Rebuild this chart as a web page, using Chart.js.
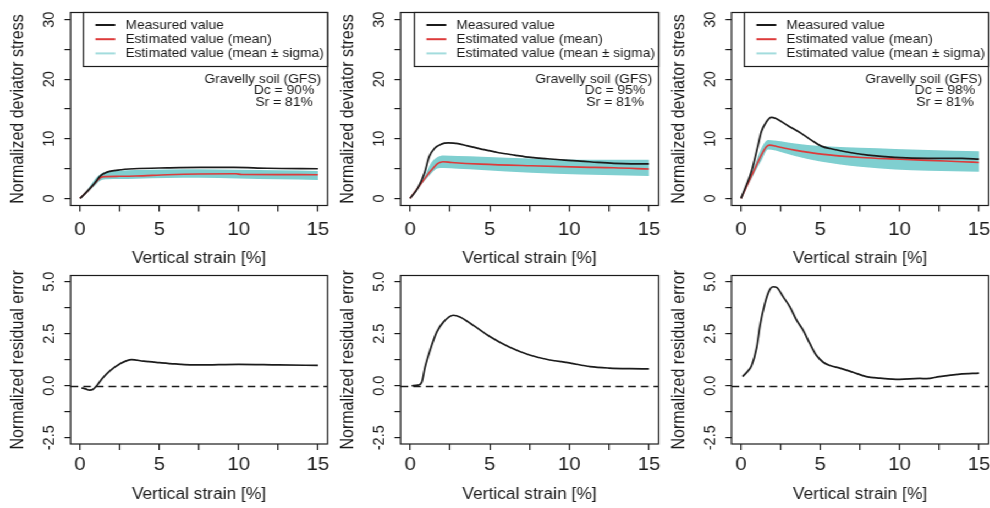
<!DOCTYPE html>
<html>
<head>
<meta charset="utf-8">
<script src="https://cdn.jsdelivr.net/npm/chart.js@4/dist/chart.umd.min.js"></script>
<style>
  html, body { margin: 0; padding: 0; background: #ffffff; overflow: hidden; }
  /* the figure is laid out 900 px wide and widened to the 990 px page */
  #wrap { position: relative; width: 900px; height: 508px; background: #ffffff;
          transform: scaleX(1.1); transform-origin: 0 0; }
  #wrap canvas { position: absolute; }
</style>
</head>
<body>
<div id="wrap">
  <canvas id="s90"></canvas>
  <canvas id="s95"></canvas>
  <canvas id="s98"></canvas>
  <canvas id="r90"></canvas>
  <canvas id="r95"></canvas>
  <canvas id="r98"></canvas>
</div>
<script>
// ---------- axis ticks and labels ----------
const strainTicks    = [0, 2.5, 5, 7.5, 10, 12.5, 15];
const strainLabels   = ['0', '', '5', '', '10', '', '15'];
const stressTicks    = [0, 5, 10, 15, 20, 25, 30];
const stressLabels   = ['0', '', '10', '', '20', '', '30'];
const residualTicks  = [-2.5, -1.25, 0, 1.25, 2.5, 3.75, 5];
const residualLabels = ['-2.5', '', '0.0', '', '2.5', '', '5.0'];

// ---------- text ----------
const strainTitle   = 'Vertical strain [%]';
const stressTitle   = 'Normalized deviator stress';
const residualTitle = 'Normalized residual error';
const legendLabels  = ['Measured value', 'Estimated value (mean)', 'Estimated value (mean \u00B1 sigma)'];
const soilLabel     = 'Gravelly soil (GFS)';
const dcLabels      = ['Dc = 90%', 'Dc = 95%', 'Dc = 98%'];
const srLabels      = ['Sr = 81%', 'Sr = 81%', 'Sr = 81%'];

// ---------- Dc = 90 % ----------
const measStrain90 = [0, 0.5, 0.9, 1.3, 1.7, 2.4, 3.4, 5.5, 7.6, 9.7, 11.8, 15];
const measured90   = [0, 1.3, 2.5, 3.8, 4.4, 4.75, 4.97, 5.12, 5.2, 5.2, 5.05, 4.97];
const meanStrain90 = [0, 0.5, 1.0, 1.3, 1.6, 2.5, 3.5, 5.5, 7.5, 9.8, 10.2, 12.5, 15];
const mean90       = [0, 1.3, 2.7, 3.5, 3.65, 3.7, 3.75, 3.97, 4.1, 4.13, 4.0, 3.98, 3.97];
const bandStrain90 = [0, 0.5, 1.0, 1.3, 1.7, 2.5, 3.5, 5.5, 7.5, 10, 12.5, 15];
const upper90      = [0, 1.6, 3.4, 4.1, 4.45, 4.65, 4.75, 4.85, 4.9, 4.8, 4.7, 4.6];
const lower90      = [0, 1.1, 2.3, 3.0, 3.2, 3.25, 3.3, 3.4, 3.45, 3.35, 3.2, 3.1];
const resStrain90  = [0.1, 0.35, 0.6, 0.8, 1.05, 1.4, 1.9, 2.5, 3.25, 4.0, 5.0, 6.0, 7.5, 10, 12.5, 15];
const residual90   = [-0.1, -0.15, -0.21, -0.18, 0.0, 0.35, 0.73, 1.05, 1.26, 1.18, 1.11, 1.05, 1.0, 1.03, 1.0, 0.98];

// ---------- Dc = 95 % ----------
const measStrain95 = [0, 0.5, 0.92, 1.2, 1.54, 1.96, 2.4, 3.0, 3.6, 4.47, 5.5, 6.55, 7.6, 8.64, 9.7, 10.7, 11.8, 12.8, 13.9, 15];
const measured95   = [0, 1.8, 4.4, 7.0, 8.4, 9.1, 9.3, 9.2, 8.8, 8.27, 7.7, 7.26, 6.87, 6.65, 6.42, 6.26, 6.03, 5.87, 5.8, 5.8];
const meanStrain95 = [0, 0.5, 1.0, 1.34, 1.75, 2.07, 2.6, 4.47, 7.6, 10.7, 12.8, 15];
const mean95       = [0, 1.8, 3.6, 4.75, 5.87, 6.15, 6.03, 5.75, 5.47, 5.25, 5.14, 4.92];
const bandStrain95 = [0, 0.5, 1.0, 1.34, 1.7, 2.1, 3.0, 4.5, 7.6, 10.7, 15];
const upper95      = [0, 1.9, 4.2, 6.0, 6.9, 7.2, 7.1, 7.0, 6.7, 6.5, 6.5];
const lower95      = [0, 1.7, 3.2, 4.2, 5.0, 5.1, 4.95, 4.75, 4.3, 4.0, 3.75];
const resStrain95  = [0.1, 0.5, 0.73, 0.94, 1.25, 1.67, 2.09, 2.71, 3.13, 3.97, 5.0, 6.26, 7.5, 8.77, 10.0, 11.3, 12.5, 13.8, 15];
const residual95   = [0.0, 0.03, 0.16, 0.9, 1.7, 2.58, 3.06, 3.39, 3.31, 2.9, 2.37, 1.85, 1.48, 1.24, 1.1, 0.92, 0.85, 0.82, 0.81];

// ---------- Dc = 98 % ----------
const measStrain98 = [0, 0.3, 0.65, 1.07, 1.28, 1.6, 1.9, 2.2, 2.96, 3.8, 4.43, 5.06, 5.9, 6.95, 8.0, 9.7, 11.8, 13.9, 15];
const measured98   = [0, 2.0, 4.47, 8.9, 11.2, 12.85, 13.6, 13.4, 12.2, 10.9, 9.78, 8.77, 8.2, 7.65, 7.26, 6.87, 6.7, 6.7, 6.6];
const meanStrain98 = [0, 0.3, 0.65, 1.0, 1.28, 1.6, 1.8, 2.33, 3.38, 5.06, 7.58, 9.7, 11.8, 13.9, 15];
const mean98       = [0, 1.7, 3.7, 5.7, 7.26, 8.66, 8.94, 8.66, 8.1, 7.43, 6.87, 6.6, 6.37, 6.15, 6.03];
const bandStrain98 = [0, 0.3, 0.65, 1.0, 1.3, 1.7, 2.5, 3.4, 5.0, 7.5, 9.7, 11.8, 15];
const upper98      = [0, 1.9, 4.2, 6.6, 8.5, 9.8, 9.6, 9.2, 8.8, 8.5, 8.3, 8.1, 7.9];
const lower98      = [0, 1.5, 3.2, 5.0, 6.4, 8.2, 7.8, 7.1, 6.2, 5.3, 4.86, 4.64, 4.47];
const resStrain98  = [0.1, 0.46, 0.67, 0.99, 1.2, 1.5, 1.82, 2.03, 2.24, 2.66, 3.08, 3.5, 3.92, 4.34, 4.76, 5.18, 5.6, 6.23, 7.06, 7.9, 8.74, 10.0, 11.26, 11.7, 12.5, 13.8, 15];
const residual98   = [0.44, 0.73, 0.97, 1.85, 2.9, 3.95, 4.63, 4.76, 4.73, 4.27, 3.79, 3.15, 2.66, 2.02, 1.45, 1.13, 0.97, 0.85, 0.65, 0.44, 0.37, 0.31, 0.35, 0.34, 0.44, 0.56, 0.61];

// ---------- styling ----------
const FONT = '"Liberation Sans", Arial, Helvetica, sans-serif';
const INK  = '#1b1b1b';
const RED  = '#dd3b3b';
const TEAL = '#7fcfd0';
const TEAL_KEY = '#a3dcdd';
const SX = 1.1;              // horizontal widening applied to #wrap
Chart.defaults.font.family = FONT;
Chart.defaults.color = INK;

const pts = (xs, ys) => xs.map((x, i) => ({ x: x, y: ys[i] }));

// plot box edges for the three columns (page pixels, converted to layout pixels) and two rows
const columns = [
  { left: 0,   boxL: 70.5,  boxR: 327.5 },
  { left: 330, boxL: 400.5, boxR: 658.5 },
  { left: 660, boxL: 731.5, boxR: 988.5 }
].map(c => ({ left: c.left / SX, boxL: c.boxL / SX, boxR: c.boxR / SX }));
const rows = {
  stress:   { top: 0,   height: 275, boxT: 12.5,  boxB: 205.5, tickPad: 7.1, titlePad: 6.8 },
  residual: { top: 250, height: 258, boxT: 275.5, boxB: 444,   tickPad: 3.6, titlePad: 3.8 }
};

// full box around the plotting region
const framePlugin = {
  id: 'frame',
  afterDatasetsDraw(chart) {
    const { ctx, chartArea: a } = chart;
    ctx.save();
    ctx.strokeStyle = INK;
    ctx.lineWidth = 1.2;
    ctx.strokeRect(a.left, a.top, a.right - a.left, a.bottom - a.top);
    ctx.restore();
  }
};

// y tick labels written parallel to the axis
function yLabelPlugin(values, labels) {
  return {
    id: 'yLabels',
    afterDraw(chart) {
      const { ctx, chartArea: a, scales } = chart;
      ctx.save();
      ctx.fillStyle = INK;
      ctx.font = '14.5px ' + FONT;
      ctx.textAlign = 'center';
      ctx.textBaseline = 'middle';
      values.forEach((v, i) => {
        if (!labels[i]) return;
        const y = scales.y.getPixelForValue(v);
        ctx.save();
        ctx.translate(a.left - 19.5, y);
        ctx.rotate(-Math.PI / 2);
        ctx.fillText(labels[i], 0, 0);
        ctx.restore();
      });
      ctx.restore();
    }
  };
}

// dashed zero reference on the residual panels
const zeroLinePlugin = {
  id: 'zeroLine',
  beforeDatasetsDraw(chart) {
    const { ctx, chartArea: a, scales } = chart;
    const y = Math.round(scales.y.getPixelForValue(0)) + 0.5;
    ctx.save();
    ctx.strokeStyle = INK;
    ctx.lineWidth = 1.3;
    ctx.setLineDash([7, 4.5]);
    ctx.beginPath();
    ctx.moveTo(a.left, y);
    ctx.lineTo(a.right, y);
    ctx.stroke();
    ctx.restore();
  }
};

// legend box and specimen notes on the stress panels
function notesPlugin(dc, sr) {
  return {
    id: 'notes',
    afterDraw(chart) {
      const { ctx, chartArea: a } = chart;
      const lw = 222, lh = 54;
      const lx = a.right - lw, ly = a.top;
      ctx.save();
      ctx.fillStyle = '#ffffff';
      ctx.fillRect(lx, ly, lw, lh);
      ctx.strokeStyle = INK;
      ctx.lineWidth = 1.2;
      ctx.strokeRect(lx, ly, lw, lh);
      const colors = [INK, RED, TEAL_KEY];
      ctx.font = '12.6px ' + FONT;
      ctx.textBaseline = 'middle';
      ctx.textAlign = 'left';
      legendLabels.forEach((t, i) => {
        const y = ly + 12.5 + i * 14.2;
        ctx.strokeStyle = colors[i];
        ctx.lineWidth = 2;
        ctx.beginPath();
        ctx.moveTo(lx + 11, y);
        ctx.lineTo(lx + 29, y);
        ctx.stroke();
        ctx.fillStyle = INK;
        ctx.fillText(t, lx + 38.2, y + 0.5);
      });
      ctx.font = '12.6px ' + FONT;
      ctx.textAlign = 'right';
      ctx.fillStyle = INK;
      ctx.fillText(soilLabel, a.right - 5.7, a.top + 66.8);
      ctx.fillText(dc, a.right - 12.1, a.top + 78.3);
      ctx.fillText(sr, a.right - 13.4, a.top + 89.6);
      ctx.restore();
    }
  };
}

function makeChart(id, col, row, datasets, yCfg, plugins) {
  const canvas = document.getElementById(id);
  const width = Math.ceil(col.boxR - col.left + 14);
  canvas.width = width;
  canvas.height = row.height;
  canvas.style.left = col.left + 'px';
  canvas.style.top = row.top + 'px';
  canvas.style.width = width + 'px';
  canvas.style.height = row.height + 'px';
  const yAxisWidth = col.boxL - col.left;
  const xAxisHeight = row.top + row.height - row.boxB;
  return new Chart(canvas, {
    type: 'line',
    data: { datasets: datasets },
    options: {
      responsive: false,
      animation: false,
      devicePixelRatio: 1,
      layout: { padding: { left: 0, right: col.left + width - col.boxR, top: row.boxT - row.top, bottom: 0 } },
      plugins: { legend: { display: false }, tooltip: { enabled: false } },
      elements: { point: { radius: 0, hoverRadius: 0 } },
      scales: {
        x: {
          type: 'linear',
          min: -0.6,
          max: 15.6,
          afterBuildTicks: s => { s.ticks = strainTicks.map(v => ({ value: v })); },
          afterFit: s => { s.height = xAxisHeight; },
          ticks: {
            autoSkip: false, maxRotation: 0, minRotation: 0,
            padding: row.tickPad, color: INK, font: { size: 18.5 },
            callback: (v, i) => strainLabels[i]
          },
          grid: { drawOnChartArea: false, drawTicks: true, tickLength: 6, color: INK, lineWidth: 1.2 },
          border: { display: false },
          title: { display: true, text: strainTitle, color: INK, font: { size: 15.8 }, padding: { top: 0, bottom: row.titlePad } }
        },
        y: {
          type: 'linear',
          min: yCfg.min,
          max: yCfg.max,
          afterBuildTicks: s => { s.ticks = yCfg.ticks.map(v => ({ value: v })); },
          afterFit: s => { s.width = yAxisWidth; },
          ticks: { display: false },
          grid: { drawOnChartArea: false, drawTicks: true, tickLength: 5.5, color: INK, lineWidth: 1.2 },
          border: { display: false },
          title: { display: true, text: yCfg.title, color: INK, font: { size: 16 }, padding: { top: yAxisWidth - 47.7 - 9.6, bottom: 0 } }
        }
      }
    },
    plugins: plugins
  });
}

function stressSets(ms, m, es, e, bs, up, lo) {
  return [
    { data: pts(ms, m), borderColor: INK, borderWidth: 1.7, cubicInterpolationMode: 'monotone', fill: false, order: 0 },
    { data: pts(es, e), borderColor: RED, borderWidth: 1.6, cubicInterpolationMode: 'monotone', fill: false, order: 1 },
    { data: pts(bs, lo), borderWidth: 0, borderColor: 'rgba(0,0,0,0)', cubicInterpolationMode: 'monotone', fill: false, order: 3 },
    { data: pts(bs, up), borderWidth: 0, borderColor: 'rgba(0,0,0,0)', backgroundColor: TEAL, cubicInterpolationMode: 'monotone', fill: '-1', order: 2 }
  ];
}
function residualSets(xs, ys) {
  return [{ data: pts(xs, ys), borderColor: INK, borderWidth: 1.7, cubicInterpolationMode: 'monotone', fill: false }];
}

const stressAxis   = { min: -1.2, max: 31.2, ticks: stressTicks, title: stressTitle };
const residualAxis = { min: -2.8, max: 5.3, ticks: residualTicks, title: residualTitle };

makeChart('s90', columns[0], rows.stress,
  stressSets(measStrain90, measured90, meanStrain90, mean90, bandStrain90, upper90, lower90),
  stressAxis, [framePlugin, yLabelPlugin(stressTicks, stressLabels), notesPlugin(dcLabels[0], srLabels[0])]);
makeChart('s95', columns[1], rows.stress,
  stressSets(measStrain95, measured95, meanStrain95, mean95, bandStrain95, upper95, lower95),
  stressAxis, [framePlugin, yLabelPlugin(stressTicks, stressLabels), notesPlugin(dcLabels[1], srLabels[1])]);
makeChart('s98', columns[2], rows.stress,
  stressSets(measStrain98, measured98, meanStrain98, mean98, bandStrain98, upper98, lower98),
  stressAxis, [framePlugin, yLabelPlugin(stressTicks, stressLabels), notesPlugin(dcLabels[2], srLabels[2])]);

makeChart('r90', columns[0], rows.residual, residualSets(resStrain90, residual90),
  residualAxis, [framePlugin, zeroLinePlugin, yLabelPlugin(residualTicks, residualLabels)]);
makeChart('r95', columns[1], rows.residual, residualSets(resStrain95, residual95),
  residualAxis, [framePlugin, zeroLinePlugin, yLabelPlugin(residualTicks, residualLabels)]);
makeChart('r98', columns[2], rows.residual, residualSets(resStrain98, residual98),
  residualAxis, [framePlugin, zeroLinePlugin, yLabelPlugin(residualTicks, residualLabels)]);
</script>
</body>
</html>
